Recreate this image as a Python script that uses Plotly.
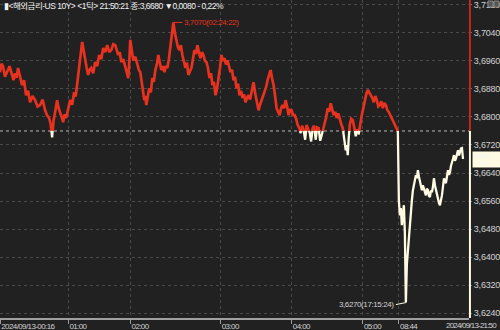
import plotly.graph_objects as go

# ---- data -------------------------------------------------------------
prev_close = 3.6760
last_price = 3.6680
max_point = (173, 3.7070)
min_point = (405, 3.6270)

seq = [0, 1.5, 3, 5, 7, 9.5, 12, 13.5, 15, 16.5, 18, 20, 22, 24, 26, 28, 30, 32.5, 35, 37.5,
       40, 42.5, 45, 47, 49, 50.5, 52, 53.5, 55, 56, 57, 58.5, 60, 61.5, 63, 64.5, 66, 68, 70, 72,
       74, 75.5, 77, 78.5, 80, 81, 82, 83.5, 85, 86.5, 88, 89.5, 91, 93, 95, 97, 99, 101, 103, 105,
       107, 109, 111, 113, 115, 116.5, 118, 119.5, 121, 123, 125, 126.5, 128, 129, 130, 131.5, 133, 135, 137, 138.5,
       140, 142, 144, 145, 146, 147.5, 149, 150.5, 152, 153.5, 155, 156.5, 158, 159.5, 161, 162.5, 164, 165.5, 167, 168.5,
       170, 171.5, 173, 174.5, 176, 177.5, 179, 180.5, 182, 183.5, 185, 186.5, 188, 189.5, 191, 192.5, 194, 195.5, 197, 198.5,
       200, 201.5, 203, 204.5, 206, 207.5, 209, 210.5, 212, 213.5, 215, 216.5, 218, 219.5, 221, 222.5, 224, 225.5, 227, 228.5,
       230, 231.5, 233, 234.5, 236, 237.5, 239, 240.5, 242, 243.5, 245, 246.5, 248, 249.5, 251, 252, 253, 254.5, 256, 257,
       258, 259.5, 261, 262.5, 264, 265.5, 267, 268.5, 270, 271.5, 273, 274.5, 276, 277.5, 279, 280.5, 282, 283.5, 285, 286.5,
       288, 289.5, 291, 292.5, 294, 295.5, 297, 298.5, 300, 301.5, 303, 304.5, 306, 307.5, 309, 310.5, 312, 313.5, 315, 316.5,
       318, 319.5, 321, 322.5, 324, 325.5, 327, 328.5, 330, 331.5, 333, 334.5, 336, 337.5, 339, 340.5, 342, 343.5, 345, 346,
       347, 348, 349, 350.5, 352, 353.5, 355, 356.5, 358, 359.5, 361, 362.5, 364, 365.5, 367, 368.5, 370, 371.5, 373, 374.5,
       376, 377.5, 379, 380.5, 382, 383.5, 385, 386.5, 388, 389.5, 391, 392.5, 394, 395.5, 397,
       398, 399, 400, 401, 402, 403, 404, 405, 406, 407, 408, 409, 410, 411, 412, 413, 414, 415, 416, 417,
       418, 419, 420, 421, 422, 423, 424, 425, 426, 427, 428, 429, 430, 431, 432, 433, 434, 435, 436, 437,
       438, 439, 440, 441, 442, 443, 444, 445, 446, 447, 448, 449, 450, 451, 452, 453, 454, 455, 456, 457,
       458, 459, 460, 461, 462]

price = [3.6928, 3.6952, 3.6945, 3.6915, 3.6928, 3.6945, 3.6920, 3.6905, 3.6925, 3.6912, 3.6940, 3.6915, 3.6891, 3.6905, 3.6862, 3.6875, 3.6842, 3.6860, 3.6848, 3.6830,
         3.6834, 3.6850, 3.6819, 3.6805, 3.6797, 3.6780, 3.6742, 3.6790, 3.6814, 3.6835, 3.6848, 3.6825, 3.6814, 3.6800, 3.6785, 3.6808, 3.6797, 3.6825, 3.6848, 3.6835,
         3.6871, 3.6858, 3.6891, 3.6920, 3.6962, 3.6990, 3.7014, 3.6985, 3.6962, 3.6940, 3.6920, 3.6935, 3.6940, 3.6925, 3.6957, 3.6945, 3.6977, 3.6965, 3.6997, 3.6985,
         3.7005, 3.6985, 3.6991, 3.7008, 3.7005, 3.6990, 3.6977, 3.6985, 3.6957, 3.6965, 3.6940, 3.6925, 3.6911, 3.6960, 3.7020, 3.6990, 3.6962, 3.6972, 3.6948, 3.6935,
         3.6928, 3.6890, 3.6848, 3.6860, 3.6834, 3.6860, 3.6882, 3.6870, 3.6911, 3.6900, 3.6934, 3.6950, 3.6977, 3.6955, 3.6934, 3.6945, 3.6928, 3.6945, 3.6940, 3.6965,
         3.7005, 3.7035, 3.7070, 3.7040, 3.7020, 3.7000, 3.6991, 3.7005, 3.6977, 3.6960, 3.6940, 3.6955, 3.6920, 3.6930, 3.6940, 3.6965, 3.6991, 3.6980, 3.7005, 3.6985,
         3.6968, 3.6985, 3.6977, 3.6960, 3.6957, 3.6940, 3.6911, 3.6925, 3.6891, 3.6900, 3.6862, 3.6880, 3.6905, 3.6940, 3.6977, 3.6960, 3.6968, 3.6950, 3.6962, 3.6945,
         3.6928, 3.6935, 3.6905, 3.6915, 3.6882, 3.6895, 3.6862, 3.6875, 3.6854, 3.6865, 3.6842, 3.6855, 3.6862, 3.6850, 3.6871, 3.6885, 3.6899, 3.6870, 3.6848, 3.6830,
         3.6819, 3.6835, 3.6848, 3.6860, 3.6871, 3.6885, 3.6905, 3.6920, 3.6934, 3.6910, 3.6891, 3.6860, 3.6825, 3.6815, 3.6805, 3.6825, 3.6834, 3.6825, 3.6848, 3.6830,
         3.6805, 3.6820, 3.6819, 3.6805, 3.6805, 3.6795, 3.6777, 3.6770, 3.6754, 3.6775, 3.6762, 3.6735, 3.6777, 3.6765, 3.6756, 3.6730, 3.6768, 3.6775, 3.6735, 3.6770,
         3.6768, 3.6732, 3.6748, 3.6765, 3.6777, 3.6800, 3.6825, 3.6815, 3.6839, 3.6820, 3.6805, 3.6815, 3.6797, 3.6810, 3.6791, 3.6780, 3.6768, 3.6740, 3.6705, 3.6720,
         3.6691, 3.6740, 3.6777, 3.6795, 3.6791, 3.6770, 3.6745, 3.6765, 3.6750, 3.6785, 3.6805, 3.6825, 3.6848, 3.6865, 3.6877, 3.6870, 3.6862, 3.6855, 3.6842, 3.6860,
         3.6848, 3.6830, 3.6834, 3.6845, 3.6825, 3.6840, 3.6834, 3.6820, 3.6814, 3.6805, 3.6797, 3.6790, 3.6777, 3.6768, 3.6760,
         3.6562, 3.6519, 3.6540, 3.6491, 3.6520, 3.6548, 3.6470, 3.6270, 3.6380, 3.6419, 3.6470, 3.6505, 3.6540, 3.6562, 3.6590, 3.6605, 3.6620, 3.6634, 3.6625, 3.6648,
         3.6630, 3.6619, 3.6605, 3.6591, 3.6605, 3.6596, 3.6585, 3.6576, 3.6595, 3.6591, 3.6575, 3.6571, 3.6590, 3.6585, 3.6600, 3.6625, 3.6605, 3.6591, 3.6575, 3.6562,
         3.6555, 3.6548, 3.6560, 3.6576, 3.6600, 3.6625, 3.6615, 3.6611, 3.6630, 3.6648, 3.6635, 3.6642, 3.6660, 3.6668, 3.6680, 3.6691, 3.6675, 3.6682, 3.6695, 3.6705,
         3.6690, 3.6699, 3.6710, 3.6711, 3.6680]

y_ticks = [3.7120, 3.7040, 3.6960, 3.6880, 3.6800, 3.6720, 3.6640, 3.6560, 3.6480, 3.6400, 3.6320, 3.6240]
y_tick_labels = ["3,7120", "3,7040", "3,6960", "3,6880", "3,6800", "3,6720",
                 "3,6640", "3,6560", "3,6480", "3,6400", "3,6320", "3,6240"]
x_ticks = [0, 68, 130, 220, 291, 362, 398]
x_tick_labels = ["2024/09/13-00:16", "01:00", "02:00", "03:00", "04:00", "05:00", "08:44"]
x_end_label = "2024/09/13-21:50"
header = "▮<해외금리-US 10Y> <1틱> 21:50:21 종:3,6680 ▼0,0080 - 0,22%"
max_label = "3,7070(02:24:22)"
min_label = "3,6270(17:15:24)"
tag_lines = ["3,6680", "-0,22%"]

# ---- styling ----------------------------------------------------------
BG = "#212121"
RED = "#e6321e"
CREAM = "#fffbe2"
TXT = "#d2d2d2"
GRID = "#4a4a4a"
FONT = "Liberation Sans, Noto Sans CJK KR"


def tight(s, ls="-0.5px"):
    return f'<span style="letter-spacing:{ls}">{s}</span>'


# split the series into above / below previous close
rx, ry, wx, wy = [], [], [], []
for i, (x, y) in enumerate(zip(seq, price)):
    above = y >= prev_close
    if i > 0:
        x0, y0 = seq[i - 1], price[i - 1]
        a0 = y0 >= prev_close
        if a0 != above:
            t = (prev_close - y0) / (y - y0)
            xc = x0 + t * (x - x0)
            if a0:
                rx += [xc, None]; ry += [prev_close, None]
                wx.append(xc); wy.append(prev_close)
            else:
                wx += [xc, None]; wy += [prev_close, None]
                rx.append(xc); ry.append(prev_close)
    if above:
        rx.append(x); ry.append(y)
    else:
        wx.append(x); wy.append(y)

fig = go.Figure()
fig.add_trace(go.Scatter(x=rx, y=ry, mode="lines", line=dict(color=RED, width=2.7),
                         connectgaps=False, hoverinfo="skip", showlegend=False))
fig.add_trace(go.Scatter(x=wx, y=wy, mode="lines", line=dict(color=CREAM, width=2.3),
                         connectgaps=False, hoverinfo="skip", showlegend=False))

y_lo, y_hi = 3.6226, 3.7134

# previous close dotted line
fig.add_shape(type="line", xref="paper", x0=0, x1=1, yref="y", y0=prev_close, y1=prev_close,
              line=dict(color="#b8b8b8", width=1, dash="dot"), layer="below")
# right axis line, red above / cream below previous close
fig.add_shape(type="line", xref="paper", x0=1.002, x1=1.002, yref="y", y0=prev_close, y1=y_hi,
              line=dict(color="#c0281a", width=2))
fig.add_shape(type="line", xref="paper", x0=1.002, x1=1.002, yref="y", y0=y_lo, y1=prev_close,
              line=dict(color=CREAM, width=2))

fig.update_layout(
    width=500, height=330,
    margin=dict(l=0, r=31, t=0, b=12),
    paper_bgcolor=BG, plot_bgcolor=BG,
    font=dict(family=FONT, size=9, color=TXT),
    xaxis=dict(range=[0, 468], tickvals=x_ticks, ticktext=[tight(s, "-0.6px") for s in x_tick_labels],
               ticklabelposition="outside right", ticks="outside", ticklen=4,
               tickcolor="#9a9a9a", showgrid=True, gridcolor=GRID, griddash="dot",
               gridwidth=1, zeroline=False, showline=True, linecolor="#a0a0a0",
               linewidth=1.5, tickfont=dict(family=FONT, size=8, color=TXT), fixedrange=True),
    yaxis=dict(range=[y_lo, y_hi], side="right", tickvals=y_ticks,
               ticktext=[tight(s, "-0.2px") for s in y_tick_labels],
               ticks="outside", ticklen=2, tickcolor="#777", showgrid=True,
               gridcolor=GRID, griddash="dot", gridwidth=1, zeroline=False,
               ticklabeloverflow="allow",
               showline=False, tickfont=dict(family=FONT, size=9, color=TXT), fixedrange=True),
)

# header
fig.add_annotation(xref="paper", yref="paper", x=0.004, y=1.0, xanchor="left", yanchor="top",
                   yshift=1, text=tight(header, "-0.5px"), showarrow=False,
                   font=dict(family=FONT, size=8.5, color="#f0f0f0"))
# right end time label
fig.add_annotation(xref="paper", yref="paper", x=1.0, y=0, xanchor="left", yanchor="top",
                   xshift=-25, yshift=-1, text=tight(x_end_label, "-0.8px"), showarrow=False,
                   font=dict(family=FONT, size=8, color=TXT))
# max annotation
fig.add_annotation(x=max_point[0], y=max_point[1], text=tight(max_label, "-0.4px"), showarrow=True,
                   arrowhead=0, arrowwidth=1, arrowcolor=RED, ax=9, ay=0,
                   xanchor="left", font=dict(family=FONT, size=8, color=RED))
# min annotation
fig.add_annotation(x=min_point[0], y=min_point[1], text=tight(min_label, "-0.4px"), showarrow=True,
                   arrowhead=0, arrowwidth=1, arrowcolor=CREAM, ax=-10, ay=2,
                   xanchor="right", font=dict(family=FONT, size=8, color=TXT))
# current price tag
fig.add_annotation(xref="paper", yref="y", x=1.0, y=last_price, xanchor="left",
                   text="<br>".join(tag_lines), showarrow=False, bgcolor=CREAM, borderpad=0,
                   width=27, height=15,
                   xshift=3, font=dict(family=FONT, size=5.5, color="#f6f6f6"), align="left")
# small window buttons top-right
for x0 in (488, 494):
    fig.add_shape(type="rect", xref="paper", yref="paper", x0=x0 / 469, x1=(x0 + 5) / 469,
                  y0=(318 - 7) / 318, y1=(318 - 1) / 318, line=dict(color="#888", width=1),
                  fillcolor="#555")

fig.write_html("out.html")
